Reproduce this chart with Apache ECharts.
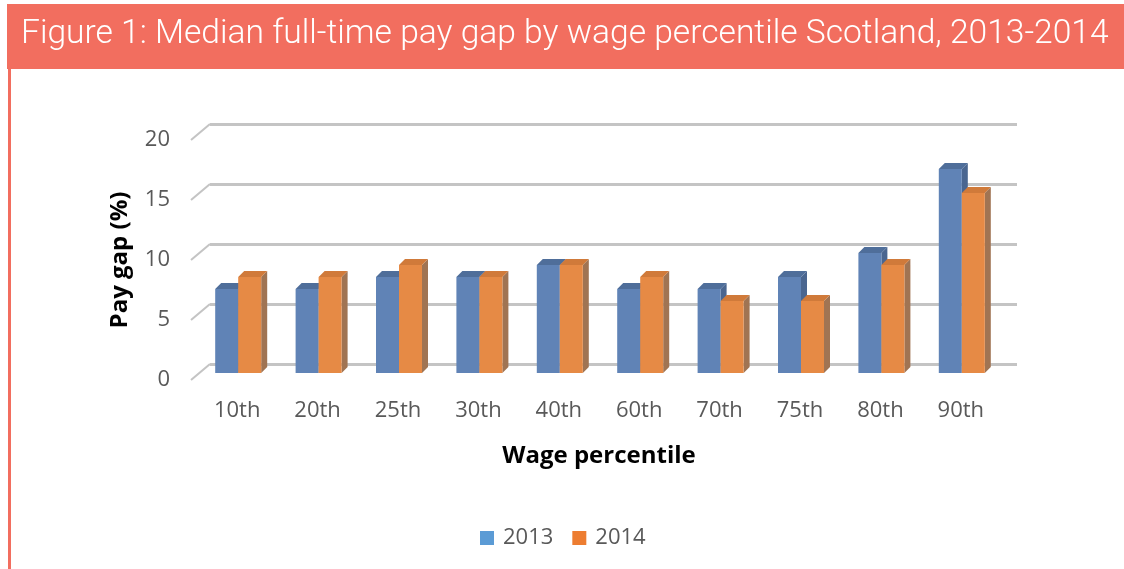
<!DOCTYPE html>
<html>
<head>
<meta charset="utf-8">
<script src="https://cdn.jsdelivr.net/npm/echarts@6/dist/echarts.min.js"></script>
<style>
  html, body { margin: 0; padding: 0; background: #fff; }
  #chart { width: 1124px; height: 569px; }
</style>
</head>
<body>
<div id="chart"></div>
<script>
const categories = ['10th', '20th', '25th', '30th', '40th', '60th', '70th', '75th', '80th', '90th']
const gap2013 = [7, 7, 8, 8, 9, 7, 7, 8, 10, 17]
const gap2014 = [8, 8, 9, 8, 9, 8, 6, 6, 9, 15]
const yTicks = [0, 5, 10, 15, 20]

const accent = '#f26e5f'
const labelFont = '"Open Sans", "Liberation Sans", sans-serif'

// 3d-ish column: front face, top face and right side face
function column(offset, faces) {
  return function (params, api) {
    const base = api.coord([api.value(0), 0])
    const top = api.coord([api.value(0), api.value(1)])
    const w = 23, d = 6
    const x0 = base[0] + offset, x1 = x0 + w
    const y0 = base[1], y1 = top[1]
    return {
      type: 'group',
      children: [
        { type: 'polygon', shape: { points: [[x1, y0], [x1 + d, y0 - d], [x1 + d, y1 - d], [x1, y1]] }, style: { fill: faces.side } },
        { type: 'polygon', shape: { points: [[x0, y1], [x0 + d, y1 - d], [x1 + d, y1 - d], [x1, y1]] }, style: { fill: faces.top } },
        { type: 'rect', shape: { x: x0, y: y1, width: w, height: y0 - y1 }, style: { fill: faces.front } }
      ]
    }
  }
}

const myChart = echarts.init(document.getElementById('chart'))

myChart.setOption({
  animation: false,
  backgroundColor: '#fff',
  graphic: [
    { type: 'rect', shape: { x: 7, y: 4, width: 1117, height: 65 }, style: { fill: accent }, z: 0 },
    { type: 'rect', shape: { x: 8, y: 69, width: 3, height: 500 }, style: { fill: accent }, z: 0 }
  ],
  title: {
    text: 'Figure 1: Median full-time pay gap by wage percentile Scotland, 2013-2014',
    left: 16,
    top: 13,
    textStyle: {
      color: '#fff',
      fontSize: 33.6,
      fontWeight: 300,
      fontFamily: 'Roboto, sans-serif'
    }
  },
  legend: {
    left: 475,
    top: 522,
    icon: 'rect',
    itemWidth: 14,
    itemHeight: 14,
    itemGap: 19,
    textStyle: { color: '#595959', fontSize: 22, fontFamily: labelFont, padding: [0, 0, 0, 4] },
    data: [
      { name: '2013', itemStyle: { color: '#5b9bd5' } },
      { name: '2014', itemStyle: { color: '#ed7d31' } }
    ]
  },
  grid: [
    // front plane, bars
    { left: 197, width: 804, top: 133, height: 240 },
    // back wall, gridlines
    { left: 210, width: 807, top: 124, height: 240 },
    // value labels
    { left: 197, width: 804, top: 140, height: 240 }
  ],
  xAxis: [
    {
      gridIndex: 0,
      type: 'category',
      data: categories,
      axisLine: { show: false },
      axisTick: { show: false },
      axisLabel: { color: '#595959', fontSize: 22, fontFamily: labelFont, margin: 27 },
      name: 'Wage percentile',
      nameLocation: 'middle',
      nameGap: 71,
      nameTextStyle: { color: '#000', fontSize: 24, fontWeight: 'bold', fontFamily: labelFont }
    },
    { gridIndex: 1, type: 'value', min: 0, max: 1, show: false },
    { gridIndex: 2, type: 'category', data: categories, show: false }
  ],
  yAxis: [
    { gridIndex: 0, type: 'value', min: 0, max: 20, interval: 5, show: false },
    {
      gridIndex: 1,
      type: 'value',
      min: 0,
      max: 20,
      interval: 5,
      axisLine: { show: false },
      axisTick: { show: false },
      axisLabel: { show: false },
      splitLine: { lineStyle: { color: '#c4c4c4', width: 3 } }
    },
    {
      gridIndex: 2,
      type: 'value',
      min: 0,
      max: 20,
      interval: 5,
      axisLine: { show: false },
      axisTick: { show: false },
      splitLine: { show: false },
      axisLabel: { color: '#595959', fontSize: 22, fontFamily: labelFont, margin: 27 },
      name: 'Pay gap (%)',
      nameLocation: 'middle',
      nameRotate: 90,
      nameGap: 65,
      nameTextStyle: { color: '#000', fontSize: 24, fontWeight: 'bold', fontFamily: labelFont }
    }
  ],
  series: [
    {
      // slanted ends of the gridlines
      type: 'custom',
      xAxisIndex: 1,
      yAxisIndex: 1,
      silent: true,
      data: yTicks.map(v => [0, v]),
      renderItem: function (params, api) {
        const p = api.coord([api.value(0), api.value(1)])
        return {
          type: 'line',
          shape: { x1: p[0] - 19, y1: p[1] + 16, x2: p[0], y2: p[1] },
          style: { stroke: '#c4c4c4', lineWidth: 2 }
        }
      }
    },
    {
      name: '2013',
      type: 'custom',
      xAxisIndex: 0,
      yAxisIndex: 0,
      itemStyle: { color: '#5b9bd5' },
      data: gap2013.map((v, i) => [i, v]),
      renderItem: column(-22, { front: '#6083b6', top: '#4f6e9a', side: '#4a6690' })
    },
    {
      name: '2014',
      type: 'custom',
      xAxisIndex: 0,
      yAxisIndex: 0,
      itemStyle: { color: '#ed7d31' },
      data: gap2014.map((v, i) => [i, v]),
      renderItem: column(1, { front: '#e68a45', top: '#d07a3a', side: '#a07453' })
    }
  ]
})

window.addEventListener('resize', () => {
  myChart.resize()
})
</script>
</body>
</html>
